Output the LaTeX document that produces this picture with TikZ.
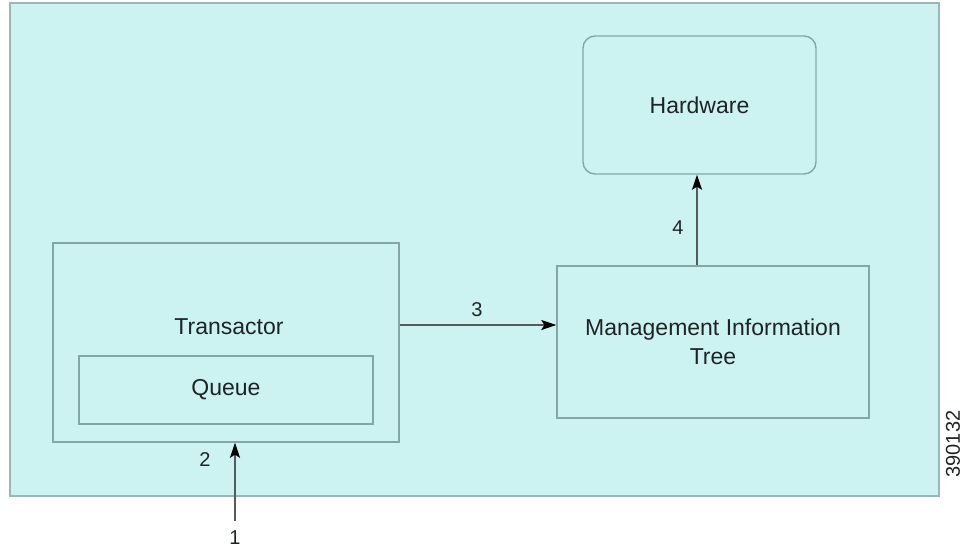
\documentclass[tikz,border=0pt]{standalone}
\usepackage{fontspec}
\setmainfont{Liberation Sans}
\usetikzlibrary{arrows.meta}
\definecolor{bgfill}{HTML}{CCF3F2}
\definecolor{bgline}{HTML}{9AB6B6}
\definecolor{boxline}{HTML}{86A6A6}
\definecolor{txt}{HTML}{1E2424}
\definecolor{shaft}{HTML}{555B5B}
\tikzset{
  boxstyle/.style={draw=boxline, line width=1.4pt, rectangle, inner sep=0pt},
  boxtext/.style={text=txt, font=\fontsize{23}{29}\selectfont, align=center},
  numlabel/.style={text=txt, font=\fontsize{20}{22}\selectfont, inner sep=0pt},
  arr/.style={draw=shaft, line width=1.8pt, -{Stealth[length=15pt,width=10pt,inset=3pt,color=black]}}
}
\begin{document}
\begin{tikzpicture}[x=1pt,y=-1pt]
\useasboundingbox (0,0) rectangle (963,550);
\node[draw=bgline, fill=bgfill, line width=1.8pt, rectangle, inner sep=0pt,
      minimum width=929pt, minimum height=493pt] (bg) at (474.5,249.5) {};
\node[boxstyle, boxtext, rounded corners=12pt, minimum width=233pt, minimum height=138pt] (hw) at (699.5,105) {Hardware};
\node[boxstyle, minimum width=346pt, minimum height=199pt] (trans) at (226,342.5) {};
\node[boxtext] (translabel) at (229,327) {Transactor};
\node[boxstyle, boxtext, minimum width=294pt, minimum height=68pt] (queue) at (226,390) {Queue};
\node[boxstyle, boxtext, minimum width=312pt, minimum height=152pt] (mit) at (713,342) {Management Information\\Tree};
\coordinate (a3) at (0,325);
\coordinate (a4) at (697,0);
\coordinate (a2) at (235,0);
\coordinate (src) at (235,521);
\draw[arr] (trans.east |- a3) -- (mit.west |- a3);
\draw[arr] (mit.north -| a4) -- (hw.south -| a4);
\draw[arr] (src) -- (trans.south -| a2);
\node[numlabel] (n1) at (235,538) {1};
\node[numlabel] (n2) at (205,460) {2};
\node[numlabel] (n3) at (477,310) {3};
\node[numlabel] (n4) at (678,228) {4};
\node[text=txt, font=\fontsize{20}{22}\selectfont, rotate=90, inner sep=0pt] (fig) at (953,444) {390132};
\end{tikzpicture}
\end{document}
